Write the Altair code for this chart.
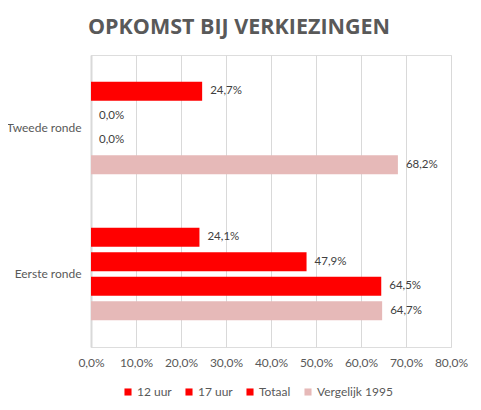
import altair as alt
import pandas as pd

rounds = ["Eerste ronde", "Tweede ronde"]
series = ["12 uur", "17 uur", "Totaal", "Vergelijk 1995"]
eerste = [24.1, 47.9, 64.5, 64.7]
tweede = [24.7, 0.0, 0.0, 68.2]
colors = ["#FF0000", "#FF0000", "#FF0000", "#E6B9B8"]
x_ticks = [0, 10, 20, 30, 40, 50, 60, 70, 80]

rows = []
for r, vals in zip(rounds, [eerste, tweede]):
    for s, v in zip(series, vals):
        rows.append({"ronde": r, "serie": s, "waarde": v,
                     "label": f"{v:.1f}%".replace(".", ",")})
df = pd.DataFrame(rows)

FONT = "Lato"
GRAY = "#595959"

y_enc = alt.Y("ronde:N", sort=["Tweede ronde", "Eerste ronde"],
              scale=alt.Scale(paddingInner=0.33, paddingOuter=0.165),
              axis=alt.Axis(title=None, ticks=False, domain=True, domainColor="#D9D9D9",
                            domainWidth=2, labelPadding=10, labelFontSize=12,
                            labelColor=GRAY, labelFont=FONT, grid=False))
yoff = alt.YOffset("serie:N", sort=series,
                   scale=alt.Scale(paddingInner=0.22, paddingOuter=0.11))
x_enc = alt.X("waarde:Q", scale=alt.Scale(domain=[0, 80], nice=False),
              axis=alt.Axis(title=None, values=x_ticks, grid=True, gridColor="#D9D9D9",
                            domain=False, ticks=False, labelPadding=10,
                            labelOverlap=False, labelFlush=False,
                            labelFontSize=12, labelColor=GRAY, labelFont=FONT,
                            labelExpr="replace(format(datum.value, '.1f'), '.', ',') + '%'"))

bars = alt.Chart(df).mark_bar().encode(
    y=y_enc, yOffset=yoff, x=x_enc,
    color=alt.Color("serie:N", sort=series,
                    scale=alt.Scale(domain=series, range=colors),
                    legend=alt.Legend(title=None, orient="none", direction="horizontal",
                                      legendX=31, legendY=331, symbolType="square",
                                      symbolSize=50, symbolStrokeWidth=0,
                                      labelFontSize=12, labelColor=GRAY, labelFont=FONT,
                                      labelOffset=3, columnPadding=11)),
)

texts = alt.Chart(df).mark_text(align="left", baseline="middle", dx=8,
                                fontSize=11.5, font=FONT, color="#404040").encode(
    y=alt.Y("ronde:N", sort=["Tweede ronde", "Eerste ronde"]),
    yOffset=alt.YOffset("serie:N", sort=series),
    x=alt.X("waarde:Q"),
    text="label:N",
)

chart = (bars + texts).properties(
    width=360, height=292,
    title=alt.Title("OPKOMST BIJ VERKIEZINGEN", font="Open Sans", fontSize=21.5,
                    fontWeight="bold", color=GRAY, anchor="middle", dx=-32, offset=17),
    autosize=alt.AutoSizeParams(type="none"),
    padding={"left": 83, "top": 47, "right": 22, "bottom": 55},
).configure_view(stroke=None).configure(background="white")

chart.save("out.html", embed_options={"renderer": "svg", "actions": False})
